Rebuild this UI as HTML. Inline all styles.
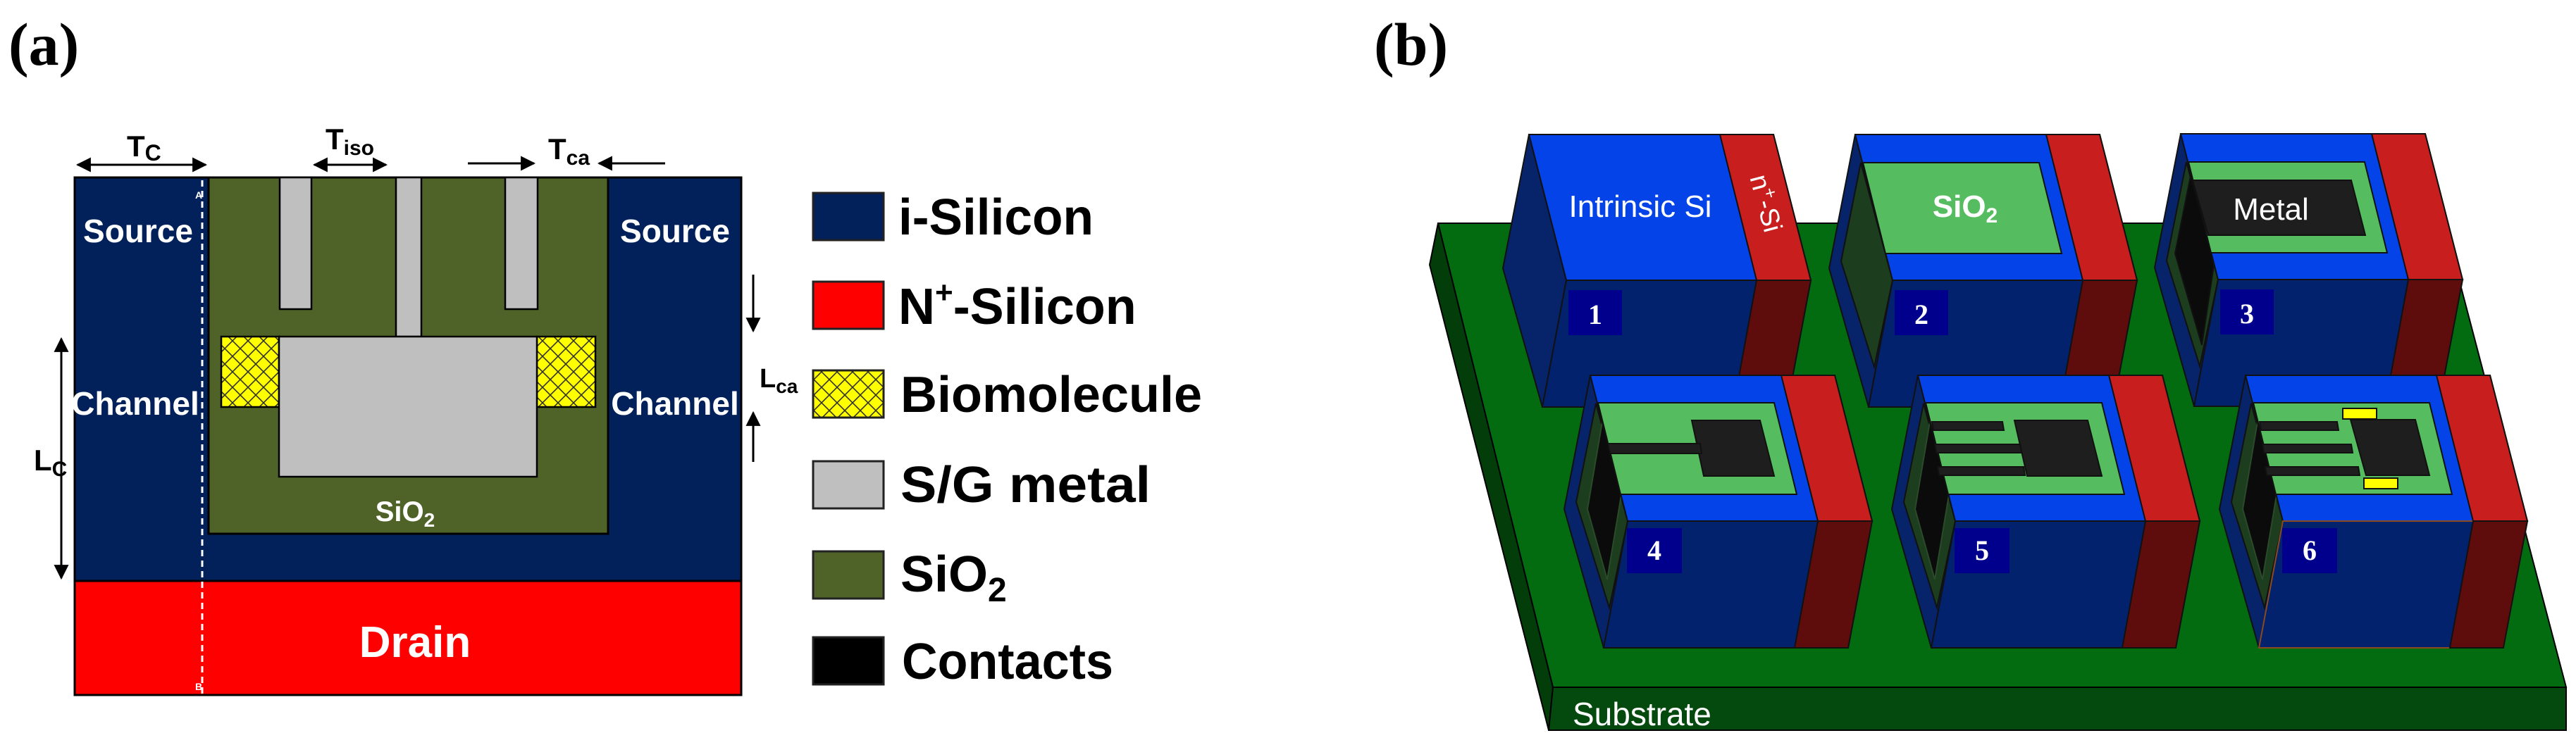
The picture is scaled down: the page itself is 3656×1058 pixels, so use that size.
<!DOCTYPE html>
<html><head><meta charset="utf-8"><style>
html,body{margin:0;padding:0;background:#fff;}
svg{display:block;}
.c{font-family:"Liberation Sans Narrow","Liberation Sans",sans-serif;font-weight:bold;}
.s{font-family:"Liberation Serif",serif;font-weight:bold;}
</style></head><body>
<svg width="3656" height="1058" viewBox="0 0 3656 1058" xmlns="http://www.w3.org/2000/svg">
<defs>
<pattern id="hatch" width="22" height="22" patternUnits="userSpaceOnUse">
<rect width="22" height="22" fill="#ffff00"/>
<path d="M0 0L22 22M22 0L0 22" stroke="#333" stroke-width="1.6"/>
</pattern>
<marker id="ah" viewBox="0 0 10 10" refX="9" refY="5" markerWidth="7" markerHeight="7" orient="auto-start-reverse"><path d="M0 0L10 5L0 10z" fill="#000"/></marker>
</defs>

<!-- (a) -->
<text x="12" y="92" class="s" font-size="86">(a)</text>

<rect x="106" y="252" width="946" height="735" fill="#02215a" stroke="#000" stroke-width="3"/>
<rect x="106" y="825" width="946" height="162" fill="#ff0000" stroke="#000" stroke-width="3"/>
<rect x="296" y="252" width="567" height="506" fill="#4f6228" stroke="#000" stroke-width="3"/>
<rect x="397" y="252" width="45" height="187" fill="#bfbfbf" stroke="#000" stroke-width="2.5"/>
<rect x="562" y="252" width="36" height="226" fill="#bfbfbf" stroke="#000" stroke-width="2.5"/>
<rect x="717" y="252" width="46" height="187" fill="#bfbfbf" stroke="#000" stroke-width="2.5"/>
<rect x="314" y="478" width="82" height="100" fill="url(#hatch)" stroke="#000" stroke-width="2.5"/>
<rect x="762" y="478" width="83" height="100" fill="url(#hatch)" stroke="#000" stroke-width="2.5"/>
<rect x="396" y="478" width="366" height="199" fill="#bfbfbf" stroke="#000" stroke-width="2.5"/>
<line x1="287" y1="256" x2="287" y2="985" stroke="#fff" stroke-width="3" stroke-dasharray="9,6"/>
<text x="277" y="282" font-family="Liberation Sans,sans-serif" font-size="14" fill="#fff" font-weight="bold">A</text>
<text x="277" y="980" font-family="Liberation Sans,sans-serif" font-size="14" fill="#fff" font-weight="bold">B</text>

<g class="c" fill="#fff" text-anchor="middle">
<text x="196" y="344" font-size="46">Source</text>
<text x="958" y="344" font-size="46">Source</text>
<text x="192" y="589" font-size="46">Channel</text>
<text x="958" y="589" font-size="46">Channel</text>
<text x="575" y="740" font-size="40">SiO<tspan font-size="28" dy="8">2</tspan></text>
<text x="589" y="933" font-size="62">Drain</text>
</g>

<!-- dimension arrows -->
<g stroke="#000" stroke-width="3" fill="none">
<line x1="110" y1="234" x2="292" y2="234" marker-start="url(#ah)" marker-end="url(#ah)"/>
<line x1="446" y1="234" x2="548" y2="234" marker-start="url(#ah)" marker-end="url(#ah)"/>
<line x1="664" y1="232" x2="758" y2="232" marker-end="url(#ah)"/>
<line x1="944" y1="232" x2="850" y2="232" marker-end="url(#ah)"/>
<line x1="1069" y1="390" x2="1069" y2="470" marker-end="url(#ah)"/>
<line x1="1069" y1="656" x2="1069" y2="586" marker-end="url(#ah)"/>
<line x1="87" y1="481" x2="87" y2="821" marker-start="url(#ah)" marker-end="url(#ah)"/>
</g>
<g class="c" fill="#000">
<text x="180" y="222" font-size="42">T<tspan font-size="32" dy="6">C</tspan></text>
<text x="462" y="212" font-size="42">T<tspan font-size="30" dy="8">iso</tspan></text>
<text x="778" y="226" font-size="42">T<tspan font-size="30" dy="8">ca</tspan></text>
<text x="1078" y="550" font-size="38">L<tspan font-size="28" dy="8">ca</tspan></text>
<text x="48" y="668" font-size="42">L<tspan font-size="30" dy="8">C</tspan></text>
</g>

<!-- legend -->
<g stroke="#222" stroke-width="3">
<rect x="1154" y="274" width="100" height="67" fill="#02215a"/>
<rect x="1154" y="400" width="100" height="67" fill="#ff0000"/>
<rect x="1154" y="526" width="100" height="67" fill="url(#hatch)"/>
<rect x="1154" y="655" width="100" height="67" fill="#bfbfbf"/>
<rect x="1154" y="783" width="100" height="67" fill="#4f6228"/>
<rect x="1154" y="905" width="100" height="67" fill="#000"/>
</g>
<g class="c" fill="#000" font-size="72">
<text x="1275" y="333" textLength="277" lengthAdjust="spacingAndGlyphs">i-Silicon</text>
<text x="1275" y="460">N<tspan font-size="44" dy="-30">+</tspan><tspan dy="30">-Silicon</tspan></text>
<text x="1278" y="585" textLength="428" lengthAdjust="spacingAndGlyphs">Biomolecule</text>
<text x="1278" y="713" textLength="355" lengthAdjust="spacingAndGlyphs">S/G metal</text>
<text x="1278" y="840">SiO<tspan font-size="48" dy="14">2</tspan></text>
<text x="1280" y="964" textLength="300" lengthAdjust="spacingAndGlyphs">Contacts</text>
</g>

<!-- (b) -->
<text x="1950" y="92" class="s" font-size="86">(b)</text>

<!-- substrate -->
<polygon points="2041,317 3469,317 3642,976 2204,976" fill="#036b10" stroke="#000" stroke-width="2"/>
<polygon points="2041,317 2204,976 2198,1037 2029,376" fill="#023d0a" stroke="#000" stroke-width="2"/>
<polygon points="2204,976 3642,976 3642,1037 2198,1037" fill="#044a0e" stroke="#000" stroke-width="2"/>
<text x="2232" y="1030" font-family="Liberation Sans Narrow,Liberation Sans,sans-serif" font-size="46" fill="#fff">Substrate</text>

<g id="cubes" stroke="#111" stroke-width="2">
<!-- cube 1 -->
<g transform="translate(2170,191)">
<polygon points="0,0 53,207 19,387 -37,190" fill="#07246a"/>
<polygon points="0,0 347,0 400,207 53,207" fill="#0343e8"/>
<polygon points="271,0 347,0 400,207 323,207" fill="#c81e1e"/>
<polygon points="53,207 400,207 366,387 19,387" fill="#03226e"/>
<polygon points="323,207 400,207 366,387 290,387" fill="#5e0c0c"/>
<rect x="56" y="221" width="76" height="64" fill="#00008c" stroke="none"/>
</g>
<!-- cube 2 -->
<g transform="translate(2633,191)">
<polygon points="0,0 53,207 19,387 -37,190" fill="#07246a"/>
<polygon points="8,40 53,207 27,330 -20,180" fill="#1d3d1f"/>
<polygon points="0,0 347,0 400,207 53,207" fill="#0343e8"/>
<polygon points="271,0 347,0 400,207 323,207" fill="#c81e1e"/>
<polygon points="11,40 261,40 293,169 43,169" fill="#55bd5f"/>
<polygon points="53,207 400,207 366,387 19,387" fill="#03226e"/>
<polygon points="323,207 400,207 366,387 290,387" fill="#5e0c0c"/>
<rect x="56" y="221" width="76" height="64" fill="#00008c" stroke="none"/>
</g>
<!-- cube 3 -->
<g transform="translate(3095,190)">
<polygon points="0,0 53,207 19,387 -37,190" fill="#07246a"/>
<polygon points="8,40 53,207 27,330 -20,180" fill="#1d3d1f"/>
<polygon points="14,60 48,180 30,300 -8,170" fill="#0b0b0b"/>
<polygon points="0,0 347,0 400,207 53,207" fill="#0343e8"/>
<polygon points="271,0 347,0 400,207 323,207" fill="#c81e1e"/>
<polygon points="11,40 261,40 293,169 43,169" fill="#55bd5f"/>
<polygon points="17,66 242,66 262,144 39,144" fill="#1e1e1e"/>
<polygon points="53,207 400,207 366,387 19,387" fill="#03226e"/>
<polygon points="323,207 400,207 366,387 290,387" fill="#5e0c0c"/>
<rect x="56" y="221" width="76" height="64" fill="#00008c" stroke="none"/>
</g>
<!-- cube 4 -->
<g transform="translate(2257,533)">
<polygon points="0,0 53,207 19,387 -37,190" fill="#07246a"/>
<polygon points="8,40 53,207 27,330 -20,180" fill="#1d3d1f"/>
<polygon points="18,60 44,170 24,290 -4,190" fill="#0b0b0b" stroke="#2a4a2a"/>
<polygon points="0,0 347,0 400,207 53,207" fill="#0343e8"/>
<polygon points="271,0 347,0 400,207 323,207" fill="#c81e1e"/>
<polygon points="11,39 261,39 293,169 43,169" fill="#55bd5f"/>
<polygon points="144,64 241,64 261,143 161,143" fill="#1e1e1e"/>
<polygon points="25,97 156,97 158,111 28,111" fill="#1e1e1e"/>
<polygon points="53,207 400,207 366,387 19,387" fill="#03226e"/>
<polygon points="323,207 400,207 366,387 290,387" fill="#5e0c0c"/>
<rect x="52" y="217" width="78" height="64" fill="#00008c" stroke="none"/>
</g>
<!-- cube 5 -->
<g transform="translate(2722,533)">
<polygon points="0,0 53,207 19,387 -37,190" fill="#07246a"/>
<polygon points="8,40 53,207 27,330 -20,180" fill="#1d3d1f"/>
<polygon points="18,60 44,170 24,290 -4,190" fill="#0b0b0b" stroke="#2a4a2a"/>
<polygon points="0,0 347,0 400,207 53,207" fill="#0343e8"/>
<polygon points="271,0 347,0 400,207 323,207" fill="#c81e1e"/>
<polygon points="11,39 261,39 293,169 43,169" fill="#55bd5f"/>
<polygon points="137,64 241,64 261,143 155,143" fill="#1e1e1e"/>
<polygon points="20,66 120,66 122,78 22,78" fill="#1e1e1e"/>
<polygon points="24,98 145,98 147,110 26,110" fill="#1e1e1e"/>
<polygon points="28,130 150,130 152,142 30,142" fill="#1e1e1e"/>
<polygon points="53,207 400,207 366,387 19,387" fill="#03226e"/>
<polygon points="323,207 400,207 366,387 290,387" fill="#5e0c0c"/>
<rect x="52" y="217" width="78" height="64" fill="#00008c" stroke="none"/>
</g>
<!-- cube 6 -->
<g transform="translate(3187,533)">
<polygon points="0,0 53,207 19,387 -37,190" fill="#07246a"/>
<polygon points="8,40 53,207 27,330 -20,180" fill="#1d3d1f"/>
<polygon points="18,60 44,170 24,290 -4,190" fill="#0b0b0b" stroke="#2a4a2a"/>
<polygon points="0,0 347,0 400,207 53,207" fill="#0343e8"/>
<polygon points="271,0 347,0 400,207 323,207" fill="#c81e1e"/>
<polygon points="11,39 261,39 293,169 43,169" fill="#55bd5f"/>
<polygon points="149,63 241,63 261,142 171,142" fill="#1e1e1e"/>
<polygon points="20,66 130,66 132,78 22,78" fill="#1e1e1e"/>
<polygon points="24,98 150,98 152,110 26,110" fill="#1e1e1e"/>
<polygon points="28,130 160,130 162,142 30,142" fill="#1e1e1e"/>
<rect x="138" y="47" width="48" height="15" fill="#ffff00"/>
<rect x="168" y="146" width="48" height="15" fill="#ffff00"/>
<polygon points="53,207 400,207 366,387 19,387" fill="#03226e" stroke="#8a4a20"/>
<polygon points="323,207 400,207 366,387 290,387" fill="#5e0c0c"/>
<rect x="52" y="217" width="78" height="64" fill="#00008c" stroke="none"/>
</g>
</g>

<g class="s" fill="#fff" font-size="40" text-anchor="middle" font-weight="normal">
<text x="2264" y="460">1</text>
<text x="2727" y="460">2</text>
<text x="3189" y="459">3</text>
<text x="2348" y="795">4</text>
<text x="2813" y="795">5</text>
<text x="3278" y="795">6</text>
</g>
<g font-family="Liberation Sans Narrow,Liberation Sans,sans-serif" fill="#fff" text-anchor="middle">
<text x="2328" y="308" font-size="44">Intrinsic Si</text>
<text x="2789" y="308" font-size="44" font-weight="bold">SiO<tspan font-size="30" dy="8">2</tspan></text>
<text x="3223" y="312" font-size="44">Metal</text>
<text transform="translate(2494,292) rotate(75)" font-size="38">n<tspan font-size="26" dy="-14">+</tspan><tspan dy="14">-Si</tspan></text>
</g>
</svg>
</body></html>
